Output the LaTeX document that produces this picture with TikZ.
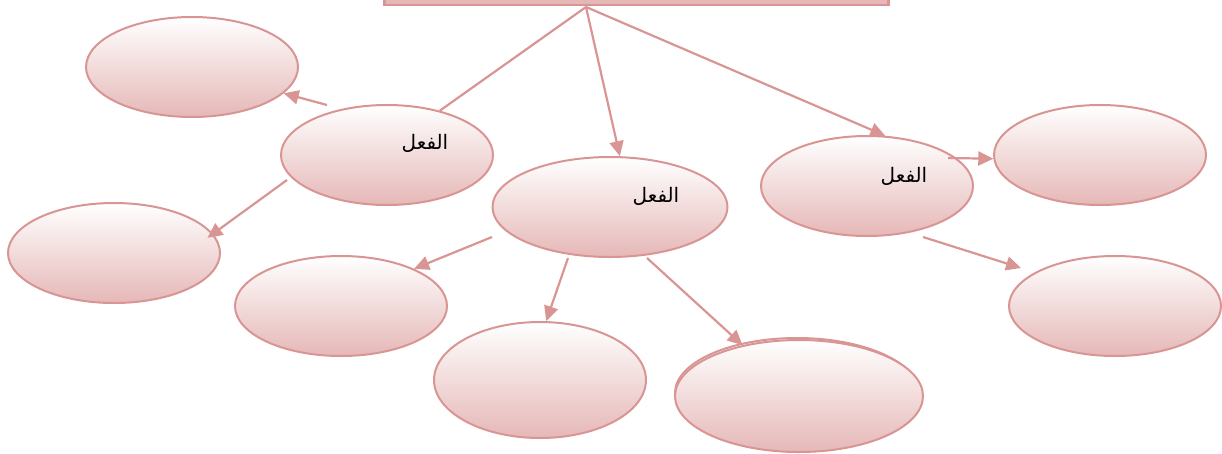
\documentclass[tikz,border=0pt]{standalone}
\usepackage{fontspec}
\usetikzlibrary{shapes.geometric,arrows.meta}
\newfontfamily\arabicfont[Script=Arabic]{DejaVu Sans}
\TeXXeTstate=1
\definecolor{edgec}{HTML}{D99594}
\definecolor{fillb}{HTML}{E5B8B7}
\tikzset{
  oval/.style={ellipse, draw=edgec, line width=2pt, minimum width=212pt, minimum height=100pt, top color=white, bottom color=fillb, inner sep=0pt},
  conn/.style={draw=edgec, line width=2.2pt},
  arr/.style={conn, -{Triangle[length=15pt,width=14pt]}},
  lbl/.style={inner sep=0pt}
}
\newcommand{\arlbl}[1]{{\fontsize{20}{24}\selectfont\arabicfont\beginR #1\endR}}
\begin{document}
\begin{tikzpicture}[x=1pt,y=-1pt]
\useasboundingbox (0,0) rectangle (1222,453);
\clip (0,0) rectangle (1222,453);
% top rectangle
\node[draw=edgec, line width=2.5pt, fill=fillb, minimum width=504pt, minimum height=40pt, inner sep=0pt, anchor=south west] (box) at (383,6) {};
\coordinate (top) at (586,7);
% ellipses
\node[oval] (e1) at (192,67) {};
\node[oval] (e2) at (387,155) {};
\node[oval] (e3) at (114,253) {};
\node[oval, minimum width=235pt] (e4) at (610,207) {};
\node[oval] (e5) at (867,186) {};
\node[oval] (e6) at (1100,155) {};
\node[oval] (e7) at (1115,306) {};
\node[oval] (e8) at (341,306) {};
\node[oval, minimum height=116pt] (e9) at (540,380) {};
\node[oval, minimum width=244pt, minimum height=110pt] (e10b) at (797,393) {};
\node[oval, minimum width=248pt, minimum height=112pt] (e10) at (799,396) {};
% labels
\node[lbl] (t2) at (425,143) {\arlbl{الفعل}};
\node[lbl] (t4) at (656,196) {\arlbl{الفعل}};
\node[lbl] (t5) at (904,176) {\arlbl{الفعل}};
% connector start points
\coordinate (s1) at (327,105);
\coordinate (s2) at (287,180);
\coordinate (s3) at (492,237);
\coordinate (s4) at (568,258);
\coordinate (s5) at (647,258);
\coordinate (s6) at (948,158);
\coordinate (s7) at (923,237);
\coordinate (t7) at (1021,268);
% connectors
\draw[conn] (top) -- (e2.40);
\draw[arr] (top) -- (e4.79);
\draw[arr] (top) -- (e5.70);
\draw[arr] (s1) -- (e1.-16);
\draw[arr, shorten >=-7pt] (s2) -- (e3.11);
\draw[arr] (s3) -- (e8.27.5);
\draw[arr] (s4) -- (e9.84);
\draw[arr] (s5) -- (e10.138);
\draw[arr] (s6) -- (e6.182);
\draw[arr] (s7) -- (t7);
\end{tikzpicture}
\end{document}
